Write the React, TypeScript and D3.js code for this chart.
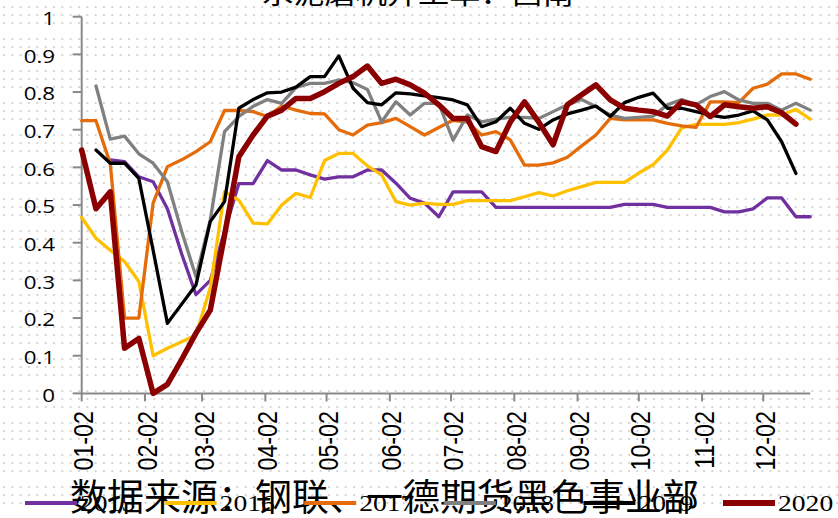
import React from "react";
import * as d3 from "d3";

const W = 838;
const H = 518;

const seriesNames = ["2015", "2016", "2017", "2018", "2019", "2020"];
const seriesColors = ["#7030A0", "#FFC000", "#E46C0A", "#808080", "#000000", "#8B0000"];
const seriesWidths = [3.3, 3.3, 3.3, 3.3, 3.3, 5.5];

const yTicks = [0, 0.1, 0.2, 0.3, 0.4, 0.5, 0.6, 0.7, 0.8, 0.9, 1];
const yTickLabels = ["0", "0.1", "0.2", "0.3", "0.4", "0.5", "0.6", "0.7", "0.8", "0.9", "1"];
const xTickMonths = [0, 1, 2, 3, 4, 5, 6, 7, 8, 9, 10, 11];

const title = "水泥磨机开工率：西南";
const sourceNote = "数据来源：钢联、一德期货黑色事业部";

const N = null;
const s2015 = [N, N, 0.62, 0.615, 0.575, 0.562, 0.49, 0.37, 0.262, 0.3, 0.43, 0.557, 0.557, 0.618, 0.593, 0.593, 0.58, 0.569, 0.575, 0.575, 0.593, 0.593, 0.558, 0.518, 0.505, 0.469, 0.535, 0.535, 0.535, 0.494, 0.494, 0.494, 0.494, 0.494, 0.494, 0.494, 0.494, 0.494, 0.502, 0.502, 0.502, 0.494, 0.494, 0.494, 0.494, 0.482, 0.482, 0.49, 0.519, 0.519, 0.469, 0.469];
const s2016 = [0.467, 0.412, 0.38, 0.35, 0.297, 0.1, 0.12, 0.137, 0.155, 0.28, 0.535, 0.513, 0.452, 0.45, 0.5, 0.531, 0.52, 0.618, 0.637, 0.637, 0.604, 0.58, 0.509, 0.5, 0.505, 0.502, 0.502, 0.512, 0.512, 0.512, 0.512, 0.522, 0.533, 0.524, 0.538, 0.549, 0.56, 0.56, 0.56, 0.585, 0.607, 0.646, 0.705, 0.714, 0.714, 0.714, 0.719, 0.728, 0.739, 0.739, 0.754, 0.728];
const s2017 = [0.724, 0.724, 0.61, 0.2, 0.2, 0.505, 0.602, 0.62, 0.642, 0.668, 0.751, 0.751, 0.748, 0.735, 0.763, 0.752, 0.743, 0.742, 0.7, 0.686, 0.712, 0.719, 0.73, 0.708, 0.686, 0.706, 0.725, 0.72, 0.686, 0.695, 0.673, 0.606, 0.606, 0.612, 0.627, 0.657, 0.686, 0.73, 0.726, 0.726, 0.726, 0.717, 0.71, 0.706, 0.774, 0.774, 0.772, 0.81, 0.821, 0.848, 0.848, 0.834];
const s2018 = [N, 0.816, 0.675, 0.683, 0.636, 0.611, 0.562, 0.43, 0.31, 0.46, 0.695, 0.735, 0.762, 0.78, 0.77, 0.812, 0.823, 0.823, 0.832, 0.825, 0.807, 0.721, 0.774, 0.739, 0.77, 0.77, 0.672, 0.739, 0.721, 0.728, 0.733, 0.733, 0.73, 0.748, 0.766, 0.78, 0.761, 0.739, 0.73, 0.733, 0.736, 0.766, 0.78, 0.766, 0.788, 0.801, 0.779, 0.77, 0.77, 0.752, 0.77, 0.752];
const s2019 = [N, 0.646, 0.611, 0.611, 0.571, 0.38, 0.186, 0.237, 0.288, 0.456, 0.509, 0.757, 0.78, 0.798, 0.8, 0.813, 0.841, 0.841, 0.896, 0.81, 0.772, 0.766, 0.798, 0.795, 0.79, 0.785, 0.779, 0.766, 0.708, 0.721, 0.757, 0.717, 0.701, 0.726, 0.742, 0.752, 0.763, 0.735, 0.772, 0.786, 0.797, 0.757, 0.757, 0.748, 0.739, 0.733, 0.739, 0.75, 0.726, 0.668, 0.584, N];
const s2020 = [0.646, 0.49, 0.535, 0.12, 0.146, 0.0, 0.024, 0.09, 0.16, 0.221, 0.42, 0.628, 0.686, 0.736, 0.752, 0.783, 0.783, 0.801, 0.823, 0.841, 0.869, 0.823, 0.834, 0.819, 0.797, 0.766, 0.73, 0.73, 0.655, 0.642, 0.72, 0.774, 0.72, 0.66, 0.766, 0.793, 0.819, 0.779, 0.757, 0.752, 0.748, 0.736, 0.774, 0.766, 0.735, 0.766, 0.761, 0.757, 0.761, 0.745, 0.715, N];

const allSeries = [s2015, s2016, s2017, s2018, s2019, s2020];

const YEAR = 2019;
const startDate = new Date(YEAR, 0, 2);
const endDate = new Date(YEAR, 11, 25);
const weekDates = d3.range(52).map((i) => d3.timeDay.offset(startDate, 7 * i));

const x = d3.scaleTime().domain([startDate, endDate]).range([81.7, 810.2]);
const y = d3.scaleLinear().domain([0, 1]).range([393.4, 16.7]);

const fmt = d3.timeFormat("%m-%d");
const SX = 1.2;

export default function App() {
  const line = d3
    .line<number | null>()
    .defined((v) => v !== null)
    .x((_, i) => x(weekDates[i]))
    .y((v) => y(v as number));

  const xTickDates = xTickMonths.map((m) => new Date(YEAR, m, 2));
  const axisColor = "#898989";
  const legendStep = 139.6;

  return (
    <svg
      width={W}
      height={H}
      style={{ position: "fixed", left: 0, top: 0, background: "#fff" }}
      xmlns="http://www.w3.org/2000/svg"
    >
      <defs>
        <pattern id="dots" x={3} y={0} width={25 / 3} height={32} patternUnits="userSpaceOnUse">
          <rect x={0} y={6} width={2} height={2} fill="#d6d6d6" />
          <rect x={0} y={14} width={2} height={2} fill="#d6d6d6" />
          <rect x={0} y={22} width={2} height={2} fill="#d6d6d6" />
        </pattern>
      </defs>
      <rect x={0} y={0} width={W} height={H} fill="#fff" />
      <rect x={0} y={0} width={W} height={H} fill="url(#dots)" />

      {/* title */}
      <text
        transform={`translate(418,4) scale(${SX},1)`}
        textAnchor="middle"
        fontFamily="'Noto Sans CJK SC', sans-serif"
        fontSize={26}
        fill="#000"
      >
        {title}
      </text>

      {/* y axis */}
      <line x1={81.7} x2={81.7} y1={y(1)} y2={y(0)} stroke={axisColor} strokeWidth={2} />
      {yTicks.map((t, i) => (
        <g key={"yt" + i}>
          <line x1={72.7} x2={81.7} y1={y(t)} y2={y(t)} stroke={axisColor} strokeWidth={2} />
          <text
            transform={`translate(55,${y(t) + 8.3}) scale(${SX},1)`}
            textAnchor="end"
            fontFamily="'Open Sans', sans-serif"
            fontSize={18.6}
            fill="#000"
          >
            {yTickLabels[i]}
          </text>
        </g>
      ))}

      {/* x axis */}
      <line x1={81.7} x2={810.2} y1={y(0)} y2={y(0)} stroke={axisColor} strokeWidth={2} />
      {xTickDates.map((dt, i) => (
        <g key={"xt" + i}>
          <line x1={x(dt)} x2={x(dt)} y1={y(0)} y2={y(0) + 8} stroke={axisColor} strokeWidth={2} />
          <text
            transform={`translate(${x(dt) + 11.6},411) scale(${SX},1) rotate(-90)`}
            textAnchor="end"
            fontFamily="'Liberation Sans', Arial, sans-serif"
            fontSize={23.3}
            fill="#000"
          >
            {fmt(dt)}
          </text>
        </g>
      ))}

      {/* series */}
      {allSeries.map((s, k) => (
        <path
          key={"s" + k}
          d={line(s) || ""}
          fill="none"
          stroke={seriesColors[k]}
          strokeWidth={seriesWidths[k]}
          strokeLinejoin="round"
          strokeLinecap="round"
        />
      ))}

      {/* source note */}
      <text
        x={70}
        y={511}
        fontFamily="'Noto Sans CJK SC', sans-serif"
        fontSize={37}
        fill="#000"
      >
        {sourceNote}
      </text>

      {/* legend */}
      {seriesNames.map((name, k) => {
        const x0 = 25 + legendStep * k;
        return (
          <g key={"lg" + k}>
            <line
              x1={x0}
              x2={x0 + 52}
              y1={503}
              y2={503}
              stroke={seriesColors[k]}
              strokeWidth={k === 5 ? 6 : 4}
            />
            <text
              transform={`translate(${x0 + 55},511) scale(${SX},1)`}
              fontFamily="'Liberation Serif', 'Times New Roman', serif"
              fontSize={23}
              fill="#000"
            >
              {name}
            </text>
          </g>
        );
      })}
    </svg>
  );
}
